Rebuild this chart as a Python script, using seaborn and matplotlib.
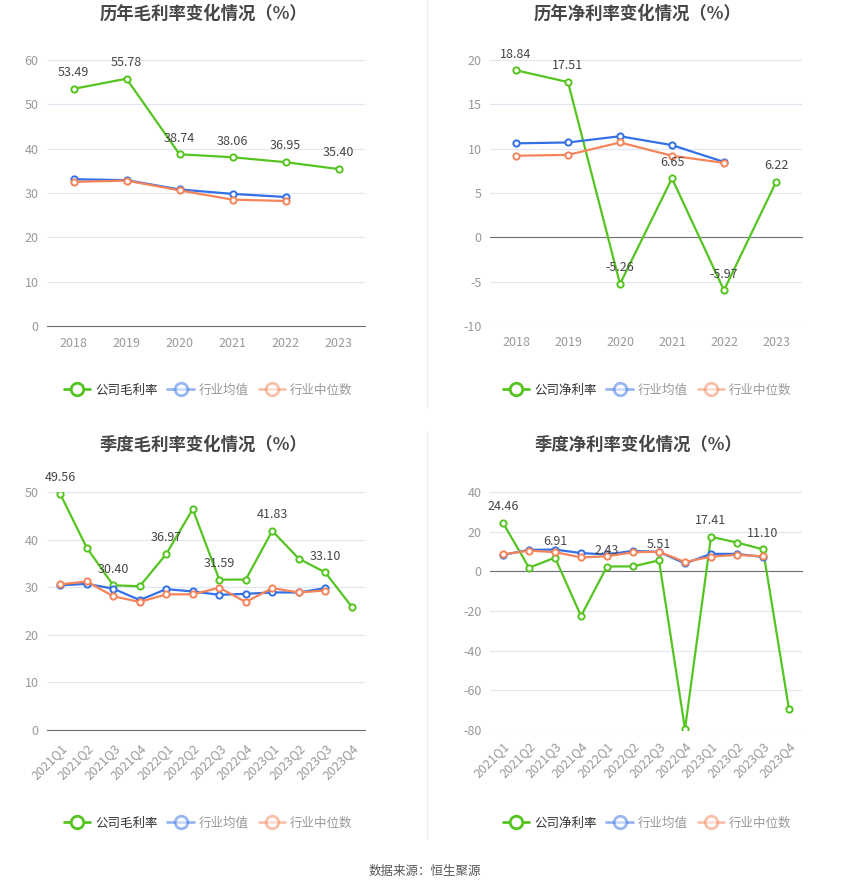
import pandas as pd
import numpy as np
import matplotlib
matplotlib.use("Agg")
import matplotlib.pyplot as plt
from matplotlib.lines import Line2D
import seaborn as sns

sns.set_style("white")
plt.rcParams["font.family"] = ["Noto Sans CJK SC", "DejaVu Sans"]
plt.rcParams["axes.unicode_minus"] = False

GREEN  = "#55C420"
BLUE   = "#3370E6"
ORANGE = "#F5845A"
TITLE_C = "#464646"
TICK_C  = "#999999"
GRID_C  = "#E0E6F1"
AXIS_C  = "#6E7079"

# ── data ────────────────────────────────────────────────────
years = ["2018", "2019", "2020", "2021", "2022", "2023"]
quarters = ["2021Q1", "2021Q2", "2021Q3", "2021Q4",
            "2022Q1", "2022Q2", "2022Q3", "2022Q4",
            "2023Q1", "2023Q2", "2023Q3", "2023Q4"]

year_gross_co     = [53.49, 55.78, 38.74, 38.06, 36.95, 35.40]
year_gross_mean   = [33.1, 32.9, 30.8, 29.8, 29.1]
year_gross_median = [32.5, 32.8, 30.6, 28.5, 28.2]

year_net_co     = [18.84, 17.51, -5.26, 6.65, -5.97, 6.22]
year_net_mean   = [10.6, 10.7, 11.4, 10.4, 8.5]
year_net_median = [9.2, 9.3, 10.7, 9.2, 8.4]

q_gross_co     = [49.56, 38.3, 30.40, 30.2, 36.97, 46.4,
                  31.59, 31.6, 41.83, 36.0, 33.10, 25.9]
q_gross_mean   = [30.4, 30.7, 29.7, 27.3, 29.6, 29.1,
                  28.4, 28.6, 28.9, 28.9, 29.8]
q_gross_median = [30.6, 31.2, 28.1, 26.9, 28.5, 28.5,
                  29.9, 26.9, 29.8, 28.9, 29.3]

q_net_co     = [24.46, 1.8, 6.91, -22.5, 2.43, 2.5,
                5.51, -79.5, 17.41, 14.5, 11.10, -69.5]
q_net_mean   = [8.3, 10.8, 11.0, 9.2, 8.5, 10.3,
                9.8, 4.0, 8.8, 8.8, 7.2]
q_net_median = [8.6, 10.4, 9.7, 7.0, 7.6, 9.6,
                9.9, 4.7, 7.4, 8.3, 7.6]

W, H = 850, 891
fig = plt.figure(figsize=(W / 100, H / 100), dpi=100)


def px_axes(left, top, right, bottom):
    return fig.add_axes([left / W, 1 - bottom / H, (right - left) / W, (bottom - top) / H])


def draw_panel(ax, cats, co, mean, median, ylim, step, label_every, rotate, zero_axis):
    for vals, color in ((co, GREEN), (mean, BLUE), (median, ORANGE)):
        sns.lineplot(x=np.arange(len(vals)), y=vals, ax=ax, color=color, linewidth=1.6,
                     marker="o", markersize=4.5, markerfacecolor="white",
                     markeredgecolor=color, markeredgewidth=1.4, zorder=3)
    for i, v in enumerate(co):
        if i % label_every == 0:
            ax.annotate(f"{v:.2f}", (i, v), xytext=(0, 7), textcoords="offset points",
                        ha="center", va="bottom", fontsize=9, color=TITLE_C, zorder=4)
    ax.set_xlim(-0.5, len(cats) - 0.5)
    ax.set_ylim(*ylim)
    ax.set_yticks(np.arange(ylim[0], ylim[1] + 0.1, step))
    ax.yaxis.grid(True, color=GRID_C, linewidth=0.8)
    ax.set_axisbelow(True)
    for s in ("left", "right", "top"):
        ax.spines[s].set_visible(False)
    ax.tick_params(axis="y", length=0, labelsize=9, labelcolor=TICK_C, pad=6)
    ax.set_xlabel("")
    ax.set_ylabel("")
    ax.set_xticks(np.arange(len(cats)))
    rot = dict(rotation=45, ha="right", rotation_mode="anchor") if rotate else {}
    if zero_axis:
        ax.spines["bottom"].set_position(("data", 0))
        ax.spines["bottom"].set_color(AXIS_C)
        ax.tick_params(axis="x", length=5, color=AXIS_C, labelbottom=False)
        sec = ax.secondary_xaxis("bottom")
        sec.set_xticks(np.arange(len(cats)))
        sec.set_xticklabels(cats, **rot)
        sec.spines["bottom"].set_visible(False)
        sec.tick_params(axis="x", length=0, labelsize=9, labelcolor=TICK_C, pad=7)
    else:
        ax.spines["bottom"].set_color(AXIS_C)
        ax.set_xticklabels(cats, **rot)
        ax.tick_params(axis="x", length=5, color=AXIS_C, labelsize=9,
                       labelcolor=TICK_C, pad=3)


def add_legend(x, y, first):
    handles = [
        Line2D([], [], color=GREEN, lw=2, marker="o", ms=9, mfc="white", mec=GREEN, mew=2),
        Line2D([], [], color=BLUE, lw=2, marker="o", ms=9, mfc="white", mec=BLUE, mew=2, alpha=0.5),
        Line2D([], [], color=ORANGE, lw=2, marker="o", ms=9, mfc="white", mec=ORANGE, mew=2, alpha=0.5),
    ]
    leg = fig.legend(handles, [first, "行业均值", "行业中位数"], loc="center",
                     bbox_to_anchor=(x / W, 1 - y / H), ncol=3, frameon=False,
                     fontsize=9, handlelength=2.1, handletextpad=0.4, columnspacing=0.8)
    for t, c in zip(leg.get_texts(), ["#333333", TICK_C, TICK_C]):
        t.set_color(c)


ax1 = px_axes(47, 60, 365, 326)
draw_panel(ax1, years, year_gross_co, year_gross_mean, year_gross_median,
           (0, 60), 10, 1, False, False)
ax2 = px_axes(490, 60, 802, 326)
draw_panel(ax2, years, year_net_co, year_net_mean, year_net_median,
           (-10, 20), 5, 1, False, True)
ax3 = px_axes(47, 492, 365, 730)
draw_panel(ax3, quarters, q_gross_co, q_gross_mean, q_gross_median,
           (0, 50), 10, 2, True, False)
ax4 = px_axes(490, 492, 802, 730)
draw_panel(ax4, quarters, q_net_co, q_net_mean, q_net_median,
           (-80, 40), 20, 2, True, True)

title_kw = dict(ha="center", va="center", fontsize=12.5, fontweight="bold", color=TITLE_C)
fig.text(203 / W, 1 - 14 / H, "历年毛利率变化情况（%）", **title_kw)
fig.text(638 / W, 1 - 14 / H, "历年净利率变化情况（%）", **title_kw)
fig.text(203 / W, 1 - 445 / H, "季度毛利率变化情况（%）", **title_kw)
fig.text(638 / W, 1 - 445 / H, "季度净利率变化情况（%）", **title_kw)

add_legend(208, 390, "公司毛利率")
add_legend(647, 390, "公司净利率")
add_legend(208, 823, "公司毛利率")
add_legend(647, 823, "公司净利率")

# column divider
fig.add_artist(Line2D([427 / W, 427 / W], [1, 1 - 407 / H], color="#EEEEEE", lw=1))
fig.add_artist(Line2D([427 / W, 427 / W], [1 - 431 / H, 1 - 838 / H], color="#EEEEEE", lw=1))

fig.text(425 / W, 1 - 871 / H, "数据来源：恒生聚源", ha="center", va="center",
         fontsize=9, color="#555555")

fig.savefig("out.png", dpi=100, facecolor="white")
